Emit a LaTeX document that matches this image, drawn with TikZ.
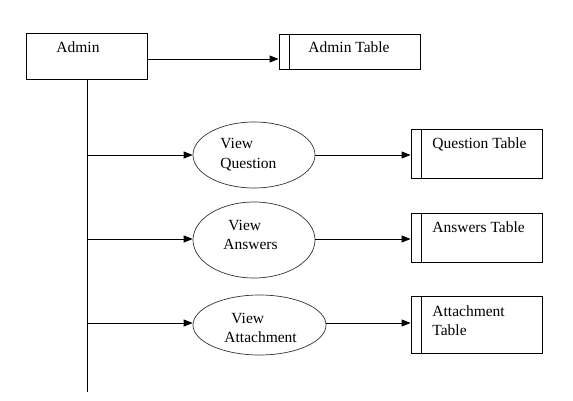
\documentclass[tikz,border=0pt]{standalone}
\usepackage{fontspec}
\setmainfont{Liberation Serif}
\usetikzlibrary{arrows.meta,shapes.geometric}
\begin{document}
\begin{tikzpicture}[x=1pt,y=-1pt,
  line width=0.9pt,
  arr/.style={-{Triangle[length=9pt,width=7pt]}},
  box/.style={draw,rectangle,inner sep=0pt},
  proc/.style={draw,ellipse,inner sep=0pt,line width=0.7pt,draw=black!80},
  lbl/.style={anchor=base west,inner sep=0pt,font=\fontsize{15.5}{19}\selectfont}]
\useasboundingbox (0,0) rectangle (573,401);
% Admin
\node[box,minimum width=121pt,minimum height=46pt] (admin) at (87,56) {};
\node[lbl] (admint) at (56,53) {Admin};
% tables
\node[box,minimum width=141pt,minimum height=35pt] (atab) at (349.5,51.5) {};
\node[box,minimum width=131pt,minimum height=49pt] (qtab) at (476.5,153.5) {};
\node[box,minimum width=131pt,minimum height=49pt] (antab) at (476.5,237.5) {};
\node[box,minimum width=131pt,minimum height=57pt] (attab) at (476.5,324.5) {};
\foreach \t in {atab,qtab,antab,attab}{
  \draw ([xshift=11pt]\t.north west) -- ([xshift=11pt]\t.south west);
}
\node[lbl] (atabt) at (308,53) {Admin Table};
\node[lbl] (qtabt) at (432,149) {Question Table};
\node[lbl] (antabt) at (432,232) {Answers Table};
\node[lbl] (attabt1) at (432,316) {Attachment};
\node[lbl] (attabt2) at (432,335) {Table};
% processes
\node[proc,minimum width=122pt,minimum height=66pt] (vq) at (254,155) {};
\node[proc,minimum width=122pt,minimum height=76pt] (va) at (254,240) {};
\node[proc,minimum width=133pt,minimum height=60pt] (vat) at (259.5,325) {};
\node[lbl] (vq1) at (220,149) {View};
\node[lbl] (vq2) at (220,168) {Question};
\node[lbl] (va1) at (228,230) {View};
\node[lbl] (va2) at (223,249) {Answers};
\node[lbl] (vat1) at (231,323) {View};
\node[lbl] (vat2) at (224,342) {Attachment};
% connectors
\coordinate (trunkbot) at (87,392);
\coordinate (b1) at (87,155);
\coordinate (b2) at (87,239);
\coordinate (b3) at (87,323);
\draw (admin.south) -- (trunkbot);
\draw[arr] ([yshift=-3pt]admin.east) -- ([yshift=-3pt]admin.east -| atab.west);
\draw[arr] (b1) -- (b1 -| vq.west);
\draw[arr] (b2) -- (b2 -| va.west);
\draw[arr] (b3) -- (b3 -| vat.west);
\draw[arr] (vq.east) -- (vq.east -| qtab.west);
\draw[arr] ([yshift=1pt]va.east) -- ([yshift=1pt]va.east -| antab.west);
\draw[arr] ([yshift=2pt]vat.east) -- ([yshift=2pt]vat.east -| attab.west);
\end{tikzpicture}
\end{document}
